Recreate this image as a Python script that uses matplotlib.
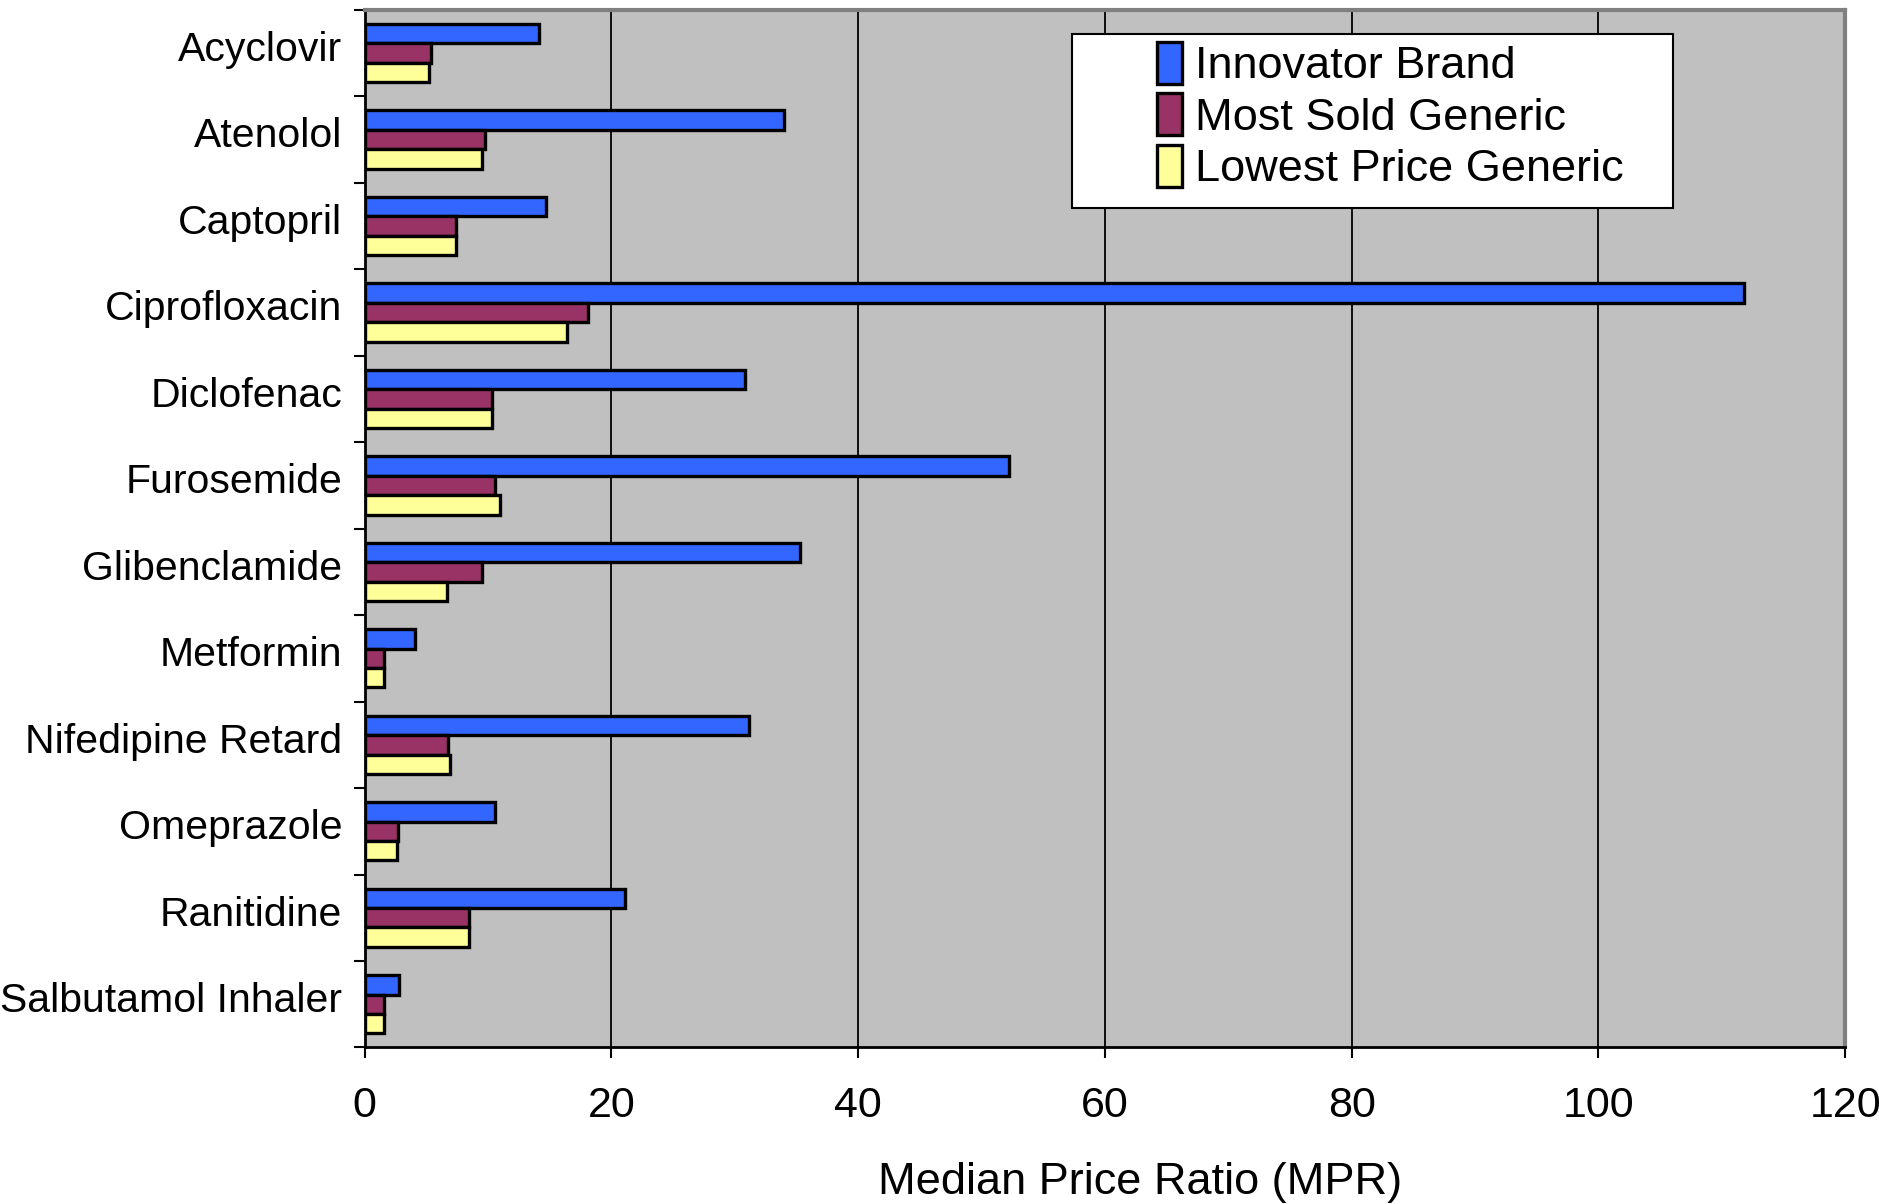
import numpy as np
import matplotlib
matplotlib.use("Agg")
import matplotlib.pyplot as plt
import matplotlib.transforms as mtransforms
from matplotlib.patches import Rectangle

drugs = ["Acyclovir", "Atenolol", "Captopril", "Ciprofloxacin", "Diclofenac",
         "Furosemide", "Glibenclamide", "Metformin", "Nifedipine Retard",
         "Omeprazole", "Ranitidine", "Salbutamol Inhaler"]
innovator = [14.1, 34.0, 14.7, 111.8, 30.8, 52.2, 35.3, 4.1, 31.2, 10.6, 21.1, 2.8]
most_sold = [5.4, 9.8, 7.4, 18.1, 10.3, 10.6, 9.5, 1.6, 6.8, 2.7, 8.5, 1.6]
lowest = [5.2, 9.5, 7.4, 16.4, 10.3, 11.0, 6.7, 1.6, 6.9, 2.6, 8.5, 1.6]
series_names = ["Innovator Brand", "Most Sold Generic", "Lowest Price Generic"]
colors = ["#3366FF", "#993366", "#FFFF99"]

plt.rcParams['font.family'] = ['Liberation Sans', 'DejaVu Sans']

fig = plt.figure(figsize=(18.79, 12.04), dpi=100)
ax = fig.add_axes([0.194, 0.130, 0.788, 0.862])

y = np.arange(len(drugs))
h = 0.225
for k, (vals, name, col) in enumerate(zip([innovator, most_sold, lowest], series_names, colors)):
    ax.barh(y + (k - 1) * h, vals, height=h, color=col, edgecolor='black',
            linewidth=2.4, label=name, zorder=3)

ax.set_facecolor('#C0C0C0')
ax.set_xlim(0, 120)
ax.set_ylim(len(drugs) - 0.5, -0.5)
ax.set_xticks(np.arange(0, 121, 20))
ax.xaxis.grid(True, color='black', linewidth=1.3, zorder=1)
ax.set_axisbelow(True)

ax.set_yticks(y)
ax.set_yticklabels(drugs, fontsize=29.5)
ax.set_yticks(np.arange(-0.5, len(drugs), 1), minor=True)
ax.tick_params(axis='y', which='major', length=0, pad=16)
ax.tick_params(axis='y', which='minor', length=8, width=1.5, direction='out')
ax.tick_params(axis='x', labelsize=31, length=8, width=1.5, pad=20)

# labels sit a little above the group centre in the original
shift = mtransforms.ScaledTranslation(0, 5 / 72, fig.dpi_scale_trans)
for lab in ax.get_yticklabels():
    lab.set_transform(lab.get_transform() + shift)

for side in ['top', 'right']:
    ax.spines[side].set_color('#808080')
    ax.spines[side].set_linewidth(3)
for side in ['left', 'bottom']:
    ax.spines[side].set_color('black')
    ax.spines[side].set_linewidth(2)

ax.set_xlabel("Median Price Ratio (MPR)", fontsize=32.5, labelpad=26)
ax.xaxis.label.set_x(0.524)

# legend box drawn separately so the left padding can be wider than the right
box = Rectangle((0.478, 0.809), 0.406, 0.168, transform=ax.transAxes,
                facecolor='white', edgecolor='black', linewidth=1.5, zorder=5)
ax.add_patch(box)
leg = ax.legend(loc='upper left', bbox_to_anchor=(0.535, 0.969), fontsize=32.5,
                frameon=False, handlelength=0.55, handleheight=1.05,
                handletextpad=0.3, borderpad=0, labelspacing=0.14,
                borderaxespad=0)
leg.set_zorder(6)

fig.savefig("out.png", dpi=100)
